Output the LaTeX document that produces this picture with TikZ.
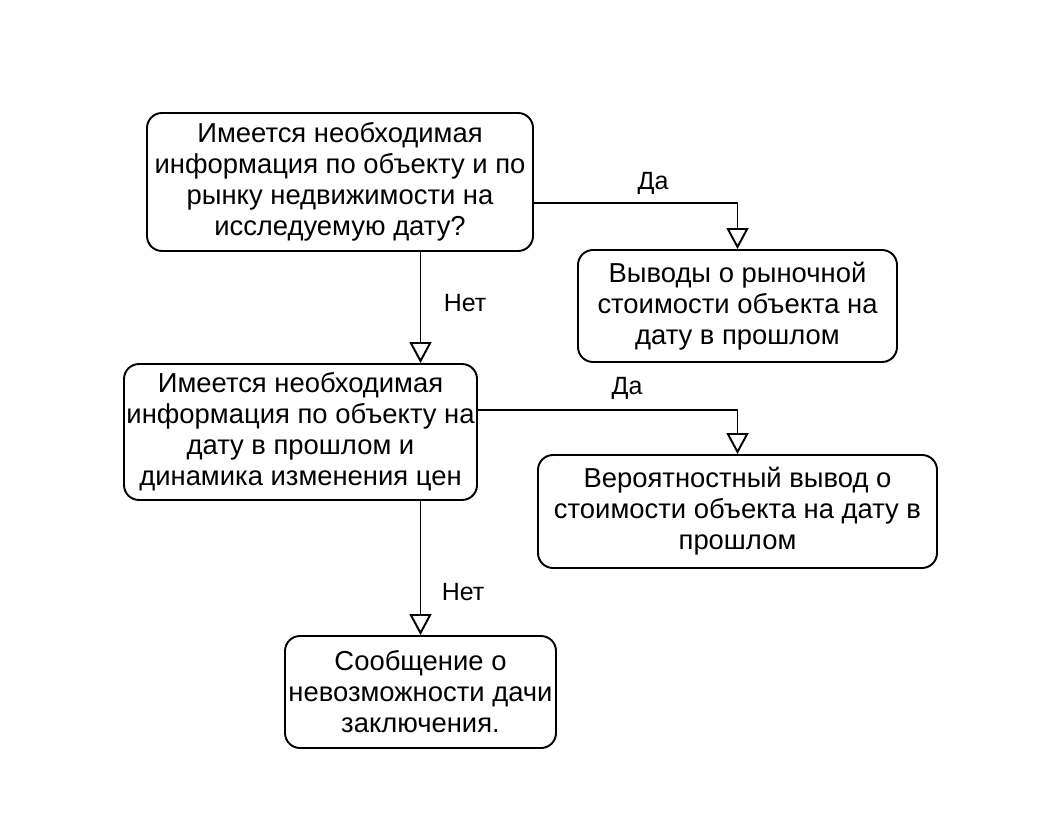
\documentclass[tikz,border=0pt]{standalone}
\usepackage{fontspec}
\setmainfont{Liberation Sans}
\usepackage{tikz}
\usetikzlibrary{arrows.meta}

\begin{document}
\begin{tikzpicture}[
		box/.style={draw, line width=1.1pt, rounded corners=0.3cm, align=center, inner sep=0pt, font=\fontsize{15.6}{17.6}\selectfont},
		arr/.style={line width=1.1pt, -{Triangle[open, width=0.44cm, length=0.42cm, line width=1.1pt]}},
		lbl/.style={inner sep=0pt, font=\fontsize{14.2}{16.4}\selectfont}
	]
	\useasboundingbox (0, 0) rectangle (20.88, 16.68);
	\node[box, minimum width=7.72cm, minimum height=2.76cm] (ask1) at (6.80, 13.04) {Имеется необходимая\\информация по объекту и по\\рынку недвижимости на\\исследуемую дату?};
	\node[box, minimum width=6.38cm, minimum height=2.24cm] (res1) at (14.75, 10.56) {Выводы о рыночной\\стоимости объекта на\\дату в прошлом};
	\node[box, minimum width=7.06cm, minimum height=2.72cm] (ask2) at (6.01, 8.04) {Имеется необходимая\\информация по объекту на\\дату в прошлом и\\динамика изменения цен};
	\node[box, minimum width=7.98cm, minimum height=2.26cm] (res2) at (14.75, 6.45) {Вероятностный вывод о\\стоимости объекта на дату в\\прошлом};
	\node[box, minimum width=5.42cm, minimum height=2.24cm] (fail) at (8.41, 2.84) {Сообщение о\\невозможности дачи\\заключения.};
	\draw[arr] ([yshift=-0.42cm]ask1.east) -| (res1.north);
	\draw[arr] (ask1.south -| fail.north) -- (ask2.north -| fail.north);
	\draw[arr] ([yshift=0.44cm]ask2.east) -| (res2.north);
	\draw[arr] (ask2.south -| fail.north) -- (fail.north);
	\node[lbl] (yes1) at (13.06, 13.02) {Да};
	\node[lbl] (no1) at (9.30, 10.62) {Нет};
	\node[lbl] (yes2) at (12.54, 8.92) {Да};
	\node[lbl] (no2) at (9.26, 4.84) {Нет};
\end{tikzpicture}
\end{document}
